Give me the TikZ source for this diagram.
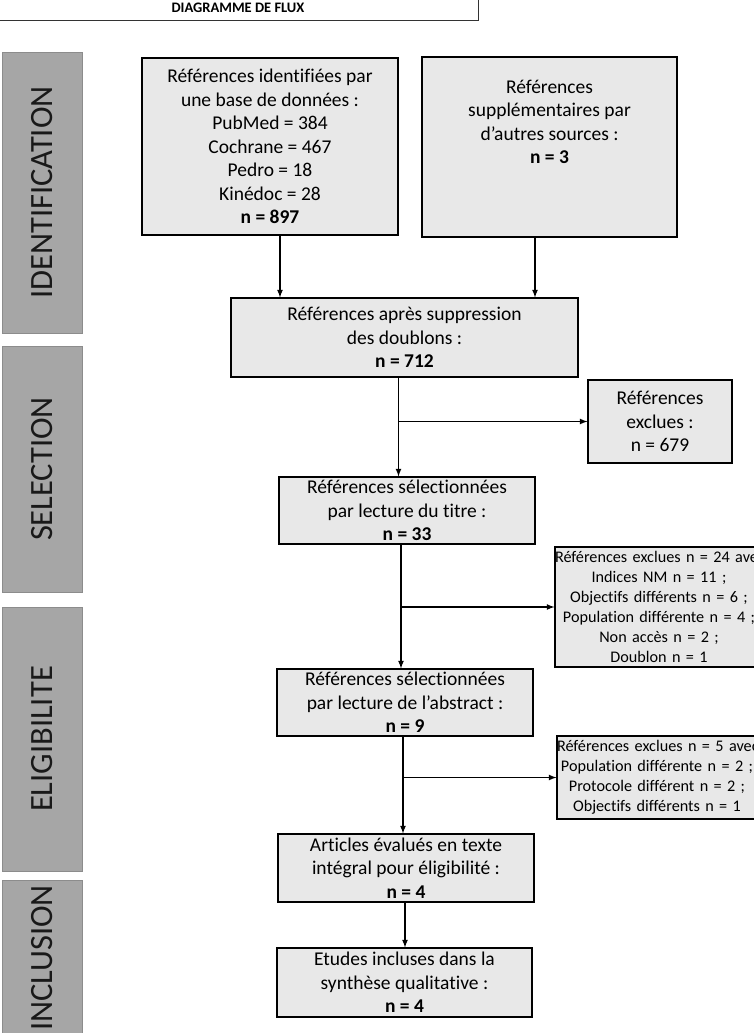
\documentclass[tikz,border=0pt]{standalone}
\usepackage{fontspec}
\setmainfont{Carlito}[Ligatures=CommonOff]

\def \phasewidth {80pt}
\def \boxwidth {256pt}

\tikzset{
  box/.style={draw, fill=black!9, line width=1.1pt, inner sep=0pt, align=center,
    font=\fontsize{19.5}{23.5}\selectfont},
  smallbox/.style={box, font=\fontsize{16.2}{20}\selectfont},
  phase/.style={draw=black!45, fill=black!35, line width=0.8pt, inner sep=0pt, rotate=90,
    minimum height=\phasewidth, text=black!90, font=\fontsize{32.5}{34}\selectfont},
  flow/.style={->, >=latex, line width=1.6pt},
}

\begin{document}
\begin{tikzpicture}[x=1pt, y=-1pt]
\useasboundingbox (0,0) rectangle (754,1033);

% titre
\node[draw=black!80, fill=white, line width=1pt, minimum width=480pt, minimum height=26pt,
  font=\bfseries\fontsize{14.5}{17}\selectfont] (titre) at (238,8) {DIAGRAMME DE FLUX};

% phases
\node[phase, minimum width=281pt] (identif) at (42,192.5) {IDENTIFICATION};
\node[phase, minimum width=246pt] (select) at (42,469) {SELECTION};
\node[phase, minimum width=264pt] (eligib) at (42,739) {ELIGIBILITE};
\node[phase, minimum width=156pt] (inclus) at (42,958) {INCLUSION};

% boites
\node[box, minimum width=\boxwidth, minimum height=177pt] (bases) at (270,146.5)
  {Références identifiées par\\ une base de données :\\ PubMed = 384\\ Cochrane = 467\\
   Pedro = 18\\ Kinédoc = 28\\ \textbf{n = 897}}; % 897
\node[box, minimum width=255pt, minimum height=180pt] (autres) at (549.5,147) {};
\node[anchor=north, align=center, font=\fontsize{19.5}{23.5}\selectfont] (autrestxt)
  at ([yshift=-20pt]autres.north) {Références\\ supplémentaires par\\ d’autres sources :\\ \textbf{n = 3}};
\node[box, minimum width=347pt, minimum height=79pt] (doublons) at (404.5,337.5)
  {Références après suppression\\ des doublons :\\ \textbf{n = 712}}; % 712
\node[box, minimum width=144pt, minimum height=83pt] (excl1) at (660,421.5)
  {Références\\ exclues :\\ n = 679}; % 679
\node[box, minimum width=\boxwidth, minimum height=67pt] (titres) at (407,510.5)
  {Références sélectionnées\\ par lecture du titre :\\ \textbf{n = 33}}; % 33
\node[smallbox, text width=208pt, minimum height=120pt] (excl2) at (659,607)
  {\mbox{Références exclues n = 24 avec :}\\ \mbox{Indices NM n = 11 ;}\\ \mbox{Objectifs différents n = 6 ;}\\
   \mbox{Population différente n = 4 ;}\\ \mbox{Non accès n = 2 ;}\\ \mbox{Doublon n = 1}}; % 24
\node[box, minimum width=\boxwidth, minimum height=67pt] (abstract) at (405,702.5)
  {Références sélectionnées\\ par lecture de l’abstract :\\ \textbf{n = 9}}; % 9
\node[smallbox, text width=200pt, minimum height=83pt] (excl3) at (657,777.5)
  {\mbox{Références exclues n = 5 avec :}\\ \mbox{Population différente n = 2 ;}\\ \mbox{Protocole différent n = 2 ;}\\
   \mbox{Objectifs différents n = 1}}; % 5
\node[box, minimum width=\boxwidth, minimum height=68pt] (integral) at (406,868)
  {Articles évalués en texte\\ intégral pour éligibilité :\\ \textbf{n = 4}}; % 4
\node[box, minimum width=255pt, minimum height=69pt] (synthese) at (404.5,982.5)
  {Etudes incluses dans la\\ synthèse qualitative :\\ \textbf{n = 4}}; % 4

% fleches
\draw[flow] ([xshift=10pt]bases.south) -- ([xshift=10pt]bases.south |- doublons.north);
\draw[flow] ([xshift=-14.5pt]autres.south) -- ([xshift=-14.5pt]autres.south |- doublons.north);
\draw[flow] ([xshift=-6pt]doublons.south) -- ([xshift=-6pt]doublons.south |- titres.north);
\draw[flow] ([xshift=-6pt]doublons.south |- excl1.west) -- (excl1.west);
\draw[flow] ([xshift=-6pt]titres.south) -- ([xshift=-6pt]titres.south |- abstract.north);
\draw[flow] ([xshift=-6pt]titres.south |- excl2.west) -- (excl2.west);
\draw[flow] ([xshift=-2pt]abstract.south) -- ([xshift=-2pt]abstract.south |- integral.north);
\draw[flow] ([xshift=-2pt]abstract.south |- excl3.west) -- (excl3.west);
\draw[flow] ([xshift=-1pt]integral.south) -- ([xshift=-1pt]integral.south |- synthese.north);
\end{tikzpicture}
\end{document}
